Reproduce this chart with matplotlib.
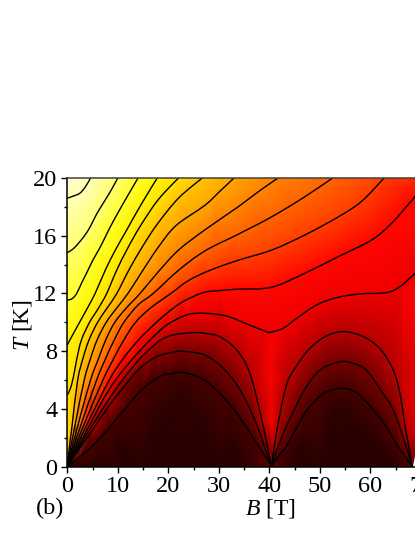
import matplotlib
matplotlib.use('Agg')
import matplotlib.pyplot as plt
import matplotlib.tri as tri
from matplotlib.colors import LinearSegmentedColormap
from matplotlib.patches import PathPatch
from matplotlib.path import Path
from matplotlib.ticker import MultipleLocator

# contour lines, (B, T) pairs
c01 = [(0,18.6),(1.2,18.75),(2.5,18.95),(3.6,19.4),(4.6,20)]
c02 = [(0,14.83),(1.2,15.1),(2.5,15.6),(3.5,16.05),(4.5,16.6),(5.8,17.5),(7.1,18.25),(8.5,19.05),(10,20)]
c03 = [(0,11.53),(1,11.65),(1.85,12),(2.8,12.7),(3.8,13.4),(5.2,14.4),(6.5,15.2),(8.2,16.4),(9.8,17.45),(12,18.8),(14,20)]
c04 = [(0,8.43),(0.7,8.9),(2.5,10.05),(4,11),(5.5,12),(7.5,13.6),(9.5,15),(11.6,16.3),(14.5,18.1),(17.8,20)]
c05 = [(0,4.97),(0.55,5.36),(1.2,6.2),(1.9,7.5),(2.8,8.78),(4.4,10),(6.2,11),(7.8,12),(9.8,13.63),(11.9,15.1),(14.5,16.7),(18,18.5),(22,20)]
c06 = [(0,0),(0.3,1),(1,3),(2.05,6),(3.1,7.5),(4.3,8.78),(6,10),(7.9,11),(9.8,12),(12.2,13.63),(14.8,15.2),(17.8,16.8),(22,18.6),(26.7,20)]
c07 = [(0,0),(0.5,1),(1.6,3),(3.35,6),(4.6,7.5),(5.9,8.78),(7.7,10),(9.8,11),(12,12),(15,13.63),(18,15.2),(21.5,16.7),(27.2,18.1),(30.1,19.05),(33,20)]
c08 = [(0,0),(0.7,1),(2.2,3),(4.6,6),(6.2,7.5),(7.6,8.78),(9.4,10),(11.7,11),(14.4,12),(18,13.5),(22,15),(27.2,16.4),(33.8,18),(37.8,19.05),(41.7,20)]
c09 = [(0,0),(0.9,1),(2.8,3),(5.8,6),(7.6,7.5),(9.3,8.78),(11.2,10),(14,11.2),(17,12),(22,13.6),(27.2,14.94),(33.8,16.1),(40.4,17.3),(47,18.7),(52.5,20)]
c10 = [(0,0),(1.1,1),(3.4,3),(7.05,6),(9.2,7.5),(11.2,8.78),(13.5,10),(16.5,11),(20.5,12),(24,12.9),(28.2,13.6),(33.8,14.3),(40.4,15),(47,16.05),(53.6,17.3),(58.2,18.37),(62.7,20)]
c11 = [(0,0),(1.3,1),(4,3),(8.3,6),(11.1,7.5),(13.9,8.7),(16.4,9.59),(19.7,10.63),(22.9,11.43),(26.9,12.06),(30.2,12.2),(33.8,12.3),(40.4,12.43),(47,13.4),(53.6,14.55),(60.2,15.7),(64.2,16.87),(68.8,18.7),(70,19.2)]
c12 = [(0,0),(1.5,1),(4.6,3),(7,4.6),(9.55,6),(13,7.5),(16.4,8.78),(19.7,9.82),(23.6,10.51),(26.9,10.63),(31.5,10.44),(35.5,9.89),(39.4,9.36),(40.1,9.31),(42.7,9.59),(45.4,10.28),(49.3,11.2),(53.3,11.71),(57.9,11.97),(63.2,12.06),(65.8,12.47),(68.8,13.4),(70,14)]
c13 = [(0,0),(1.7,1),(5.2,3),(8.1,4.6),(10.9,6),(14.4,7.5),(16.5,8.2),(18.5,8.78),(21,9.13),(24.9,9.29),(27.2,9.24),(30.2,9),(33.5,8.09),(36.1,6.5),(38.5,3.24),(40.4,0),(41,1.5),(42.1,3.7),(43.5,5.8),(45.4,7),(48,8.2),(51.3,9.06),(54.9,9.36),(59.2,8.9),(62.6,7.86),(65.3,5.9),(67.1,2.3),(68.3,0)]
c14 = [(0,0),(1.9,1),(4.5,2.3),(7.8,4),(11.1,5.5),(14.4,6.82),(17.7,7.62),(21.6,7.97),(23.6,7.97),(27.2,7.74),(30.5,6.93),(33.8,5.54),(37.1,3.24),(40.4,0),(41.5,1.2),(43,2.5),(45,4),(47,5.36),(49.3,6.47),(51.5,7),(54.6,7.3),(57,7.1),(59.2,6.7),(61.9,5.36),(64.8,3.7),(68.3,0)]
c15 = [(0,0),(2.5,0.69),(5.15,1.5),(8.45,2.77),(11.75,4.16),(15,5.43),(18.3,6.24),(20.5,6.45),(22.6,6.54),(24.5,6.4),(27.2,6),(30.5,4.97),(33.8,3.58),(37.1,1.85),(40.4,0),(41.5,0.6),(43.7,1.62),(47,3.7),(50.3,4.97),(52.3,5.3),(54.3,5.43),(56.3,5.3),(58.2,4.85),(62.2,3.24),(65.5,1.39),(68.3,0)]
contours = [c01, c02, c03, c04, c05, c06, c07, c08, c09, c10, c11, c12, c13, c14, c15]
contour_levels = [15, 14, 13, 12, 11, 10, 9, 8, 7, 6, 5, 4, 3, 2, 1]

# extra shade readings away from the lines
field_b = [0, 0, 0, 0, 70, 70, 70, 70, 70, 40.4, 40.4, 40.4, 5, 10, 15, 20, 25, 30, 35, 44, 50, 54, 58, 65, 40.4, 68.3, 10, 18, 26, 33, 46, 52, 57, 62, 22.6, 54.3]
field_t = [20, 3, 1.5, 0, 3, 8, 12, 16, 20, 3, 6, 8.5, 0, 0, 0, 0, 0, 0, 0, 0, 0, 0, 0, 0, 0, 0, 1.5, 3, 3, 1.5, 1.5, 3, 3, 1.5, 5.4, 4.4]
field_level = [15.6, 11, 10.5, 0, 4.2, 4.6, 4.8, 5.0, 5.6, 4.2, 4.5, 4.5, 0, 0, 0, 0, 0, 0, 0, 0, 0, 0, 0, 0, 1.5, 1.5, 0, 0, 0, 0, 0, 0, 0, 0, 0.3, 0.3]

shades = ['#2a0000', '#460000', '#730000', '#b40000', '#f00000', '#ff0600', '#ff3c00', '#ff6400',
          '#ff8200', '#ffa500', '#ffc300', '#ffe100', '#fff500', '#ffff28', '#ffff6e', '#ffffb4', '#ffffe1']

x_ticks = [0, 10, 20, 30, 40, 50, 60, 70]
y_ticks = [0, 4, 8, 12, 16, 20]

plt.rcParams['font.family'] = 'Liberation Serif'
plt.rcParams['mathtext.fontset'] = 'custom'
plt.rcParams['mathtext.rm'] = 'Liberation Serif'
plt.rcParams['mathtext.it'] = 'Liberation Serif:italic'

# bezier path through the read points, broken at the cusps on the B axis
def smooth_path(line):
    pieces, piece = [], [line[0]]
    for p in line[1:]:
        piece.append(p)
        if p[1] == 0:
            pieces.append(piece)
            piece = [p]
    if len(piece) > 1:
        pieces.append(piece)
    verts, codes = [], []
    for piece in pieces:
        verts.append(piece[0])
        codes.append(Path.MOVETO)
        for i in range(len(piece) - 1):
            p0 = piece[max(i - 1, 0)]
            p1, p2 = piece[i], piece[i + 1]
            p3 = piece[min(i + 2, len(piece) - 1)]
            verts.append((p1[0] + (p2[0] - p0[0]) / 6, p1[1] + (p2[1] - p0[1]) / 6))
            verts.append((p2[0] - (p3[0] - p1[0]) / 6, p2[1] - (p3[1] - p1[1]) / 6))
            verts.append(p2)
            codes += [Path.CURVE4, Path.CURVE4, Path.CURVE4]
    return Path(verts, codes)

def main():
    fig = plt.figure(figsize=(4.15, 5.37), dpi=100)
    ax = fig.add_axes([67.3 / 415, 70.3 / 537, 353.7 / 415, 288.7 / 537])

    all_b, all_t, all_l = list(field_b), list(field_t), list(field_level)
    for line, level in zip(contours, contour_levels):
        for b, t in line:
            if t > 0:
                all_b.append(b)
                all_t.append(t)
                all_l.append(level)
    cmap = LinearSegmentedColormap.from_list('heat', shades)
    ax.tripcolor(tri.Triangulation(all_b, all_t), all_l, shading='gouraud', cmap=cmap, vmin=0, vmax=16)

    for line in contours:
        ax.add_patch(PathPatch(smooth_path(line), fill=False, edgecolor='black', lw=1.0))

    ax.set_xlim(0, 70)
    ax.set_ylim(0, 20)
    ax.set_xticks(x_ticks)
    ax.set_yticks(y_ticks)
    ax.xaxis.set_minor_locator(MultipleLocator(5))
    ax.yaxis.set_minor_locator(MultipleLocator(2))
    ax.tick_params(which='major', length=4, width=1, labelsize=17.5, pad=3)
    ax.tick_params(which='minor', length=2.2, width=1)
    ax.spines['top'].set_color('#404040')
    for side in ax.spines:
        ax.spines[side].set_linewidth(1.1)

    fig.text(270 / 415, 1 - 508 / 537, '$B$ [T]', fontsize=17, ha='center', va='center')
    fig.text(23 / 415, 1 - 325 / 537, '$T$ [K]', fontsize=17, ha='center', va='center', rotation=90)
    fig.text(50 / 415, 1 - 508 / 537, '(b)', fontsize=17.5, ha='center', va='center')

    fig.savefig('out.png', dpi=100)

if __name__ == '__main__':
    main()
